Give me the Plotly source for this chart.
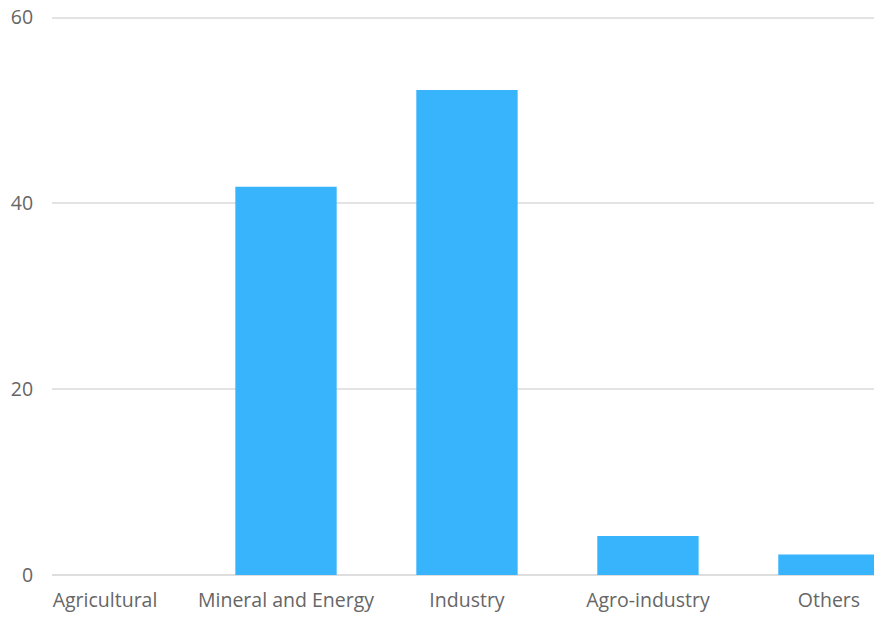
import plotly.graph_objects as go

categories = ["Agricultural", "Mineral and Energy", "Industry", "Agro-industry", "Others"]
values = [0, 41.8, 52.2, 4.2, 2.2]
y_ticks = [0, 20, 40, 60]

fig = go.Figure(go.Bar(x=categories, y=values, marker=dict(color="#38b4fd", line=dict(width=0)), width=0.56))

fig.update_layout(
    width=874, height=617,
    margin=dict(l=52, r=0, t=12, b=42),
    plot_bgcolor="white", paper_bgcolor="white",
    font=dict(family="Open Sans", size=19.5, color="#666666"),
    showlegend=False,
)
fig.update_xaxes(range=[-0.293, 4.249], showgrid=False, showline=False,
                 ticks="outside", ticklen=8, tickcolor="rgba(0,0,0,0)")
fig.update_yaxes(range=[0, 60.6], tickvals=y_ticks, showgrid=True, gridcolor="#e3e3e3", gridwidth=1.5,
                 zeroline=True, zerolinecolor="#dedede", zerolinewidth=1.5,
                 ticks="outside", ticklen=14, tickcolor="rgba(0,0,0,0)")

fig.write_html("out.html", config={"displayModeBar": False},
               post_script="document.body.style.margin='0';document.body.style.overflow='hidden';")
